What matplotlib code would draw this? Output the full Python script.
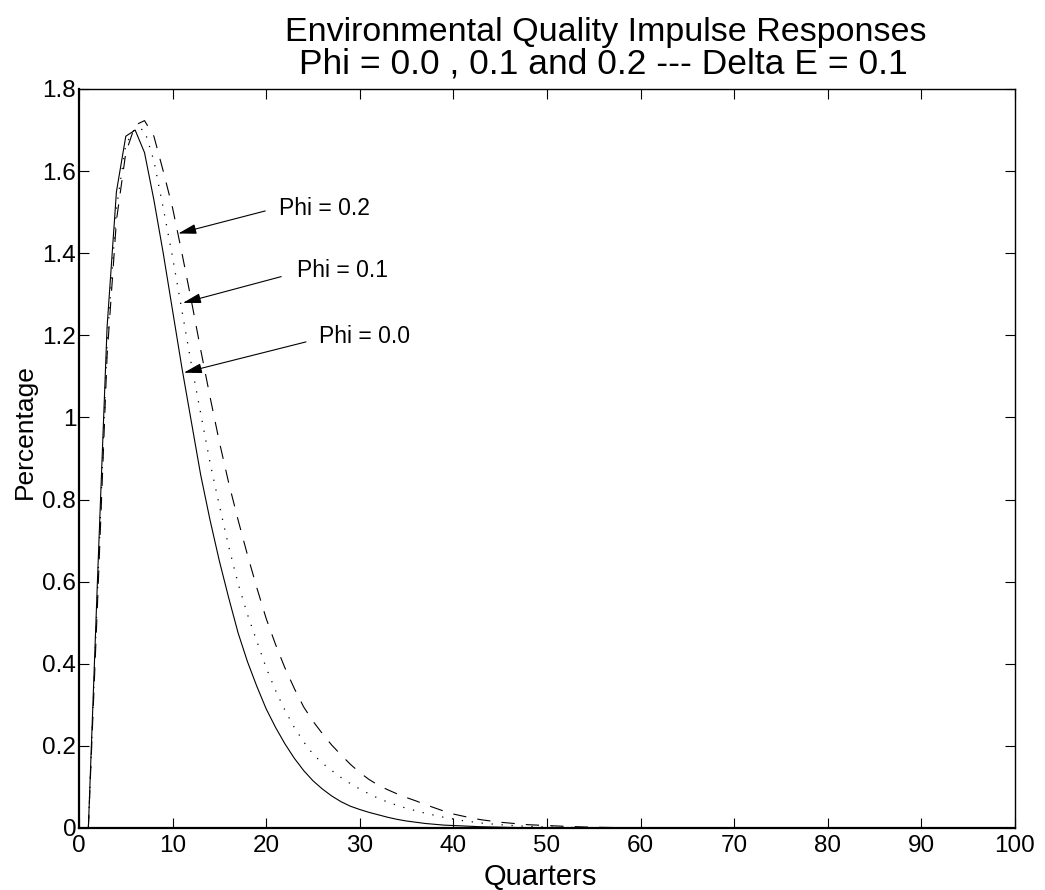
import numpy as np
import matplotlib
matplotlib.use("Agg")
import matplotlib.pyplot as plt

plt.rcParams['font.family'] = ['Liberation Sans', 'DejaVu Sans']

# quarters 1..100
quarters = np.arange(1, 101)

# Phi = 0.0 (solid)
phi00 = [0, 0.62, 1.22, 1.55, 1.685, 1.70, 1.645, 1.53, 1.40, 1.26,
         1.12, 0.99, 0.86, 0.75, 0.65, 0.56, 0.475, 0.405, 0.345, 0.29,
         0.245, 0.205, 0.17, 0.14, 0.115, 0.095, 0.078, 0.064, 0.053, 0.045,
         0.038, 0.032, 0.026, 0.021, 0.017, 0.014, 0.011, 0.009, 0.007, 0.006,
         0.005, 0.004, 0.003, 0.0025, 0.002, 0.0015, 0.001, 0.001, 0.0008, 0.0006,
         0.0005, 0.0004, 0.0003, 0.0002, 0.0002, 0.0001, 0.0001, 0.0001, 0, 0,
         0, 0, 0, 0, 0, 0, 0, 0, 0, 0,
         0, 0, 0, 0, 0, 0, 0, 0, 0, 0,
         0, 0, 0, 0, 0, 0, 0, 0, 0, 0,
         0, 0, 0, 0, 0, 0, 0, 0, 0, 0]

# Phi = 0.1 (dotted)
phi01 = [0, 0.59, 1.18, 1.51, 1.665, 1.705, 1.70, 1.625, 1.51, 1.39,
         1.26, 1.13, 1.01, 0.89, 0.785, 0.685, 0.595, 0.52, 0.455, 0.39,
         0.335, 0.287, 0.245, 0.21, 0.18, 0.158, 0.14, 0.123, 0.108, 0.095,
         0.083, 0.072, 0.063, 0.055, 0.048, 0.042, 0.036, 0.031, 0.026, 0.022,
         0.018, 0.015, 0.012, 0.01, 0.008, 0.0065, 0.005, 0.004, 0.0032, 0.0025,
         0.002, 0.0015, 0.0012, 0.001, 0.0008, 0.0006, 0.0005, 0.0004, 0.0003, 0.0002,
         0.0002, 0.0001, 0.0001, 0, 0, 0, 0, 0, 0, 0,
         0, 0, 0, 0, 0, 0, 0, 0, 0, 0,
         0, 0, 0, 0, 0, 0, 0, 0, 0, 0,
         0, 0, 0, 0, 0, 0, 0, 0, 0, 0]

# Phi = 0.2 (dashed)
phi02 = [0, 0.56, 1.15, 1.48, 1.645, 1.712, 1.723, 1.685, 1.60, 1.51,
         1.40, 1.285, 1.165, 1.05, 0.94, 0.84, 0.75, 0.665, 0.585, 0.51,
         0.447, 0.39, 0.34, 0.295, 0.26, 0.23, 0.202, 0.178, 0.155, 0.135,
         0.118, 0.104, 0.093, 0.083, 0.074, 0.066, 0.057, 0.049, 0.041, 0.034,
         0.029, 0.024, 0.02, 0.017, 0.014, 0.012, 0.01, 0.008, 0.007, 0.006,
         0.005, 0.004, 0.0032, 0.0025, 0.002, 0.0015, 0.0012, 0.001, 0.0008, 0.0006,
         0.0005, 0.0004, 0.0003, 0.0002, 0.0002, 0.0001, 0.0001, 0, 0, 0,
         0, 0, 0, 0, 0, 0, 0, 0, 0, 0,
         0, 0, 0, 0, 0, 0, 0, 0, 0, 0,
         0, 0, 0, 0, 0, 0, 0, 0, 0, 0]

yticks = [0, 0.2, 0.4, 0.6, 0.8, 1.0, 1.2, 1.4, 1.6, 1.8]
ytick_labels = ['0', '0.2', '0.4', '0.6', '0.8', '1', '1.2', '1.4', '1.6', '1.8']
xticks = [0, 10, 20, 30, 40, 50, 60, 70, 80, 90, 100]

# annotations: label, arrow tip, arrow tail, text position
ann_labels = ['Phi = 0.2', 'Phi = 0.1', 'Phi = 0.0']
ann_tips = [(10.6, 1.448), (11.1, 1.279), (11.2, 1.109)]
ann_tails = [(19.9, 1.503), (21.6, 1.343), (24.25, 1.184)]
ann_text = [(21.4, 1.51), (23.3, 1.357), (25.6, 1.197)]

fig = plt.figure(figsize=(10.45, 8.9), dpi=100)
ax = fig.add_axes([79/1045, 62/890, 936/1045, 739/890])

ax.plot(quarters, phi00, color='black', lw=0.8, ls='-')
ax.plot(quarters, phi01, color='black', lw=0.9, ls=(0, (1, 7)))
ax.plot(quarters, phi02, color='black', lw=0.8, ls=(0, (12, 10)))

for lab, tip, tail, tp in zip(ann_labels, ann_tips, ann_tails, ann_text):
    ax.annotate('', xy=tip, xytext=tail,
                arrowprops=dict(arrowstyle='-|>,head_length=11,head_width=3',
                                mutation_scale=1, color='black', lw=0.8,
                                shrinkA=0, shrinkB=0))
    ax.text(tp[0], tp[1], lab, fontsize=16.5, ha='left', va='center')

ax.set_xlim(0, 100)
ax.set_ylim(0, 1.8)
ax.set_xticks(xticks)
ax.set_yticks(yticks)
ax.set_yticklabels(ytick_labels)
ax.tick_params(direction='in', length=7, width=0.8, top=True, right=True,
               labelsize=17.5)
ax.tick_params(axis='x', pad=5)
ax.tick_params(axis='y', pad=2)
for s in ['left', 'bottom']:
    ax.spines[s].set_linewidth(1.6)
for s in ['top', 'right']:
    ax.spines[s].set_linewidth(1.0)

ax.set_xlabel('Quarters', fontsize=21)
ax.set_ylabel('Percentage', fontsize=19)
ax.xaxis.set_label_coords(0.4925, -0.066)
ax.xaxis.label.set_va('center')
ax.yaxis.set_label_coords(-0.058, 0.536)
ax.yaxis.label.set_va('center')

fig.text(606/1045, 1 - 41/890, 'Environmental Quality Impulse Responses',
         fontsize=24.5, ha='center', va='baseline')
fig.text(603/1045, 1 - 73/890, 'Phi = 0.0 , 0.1 and 0.2 --- Delta E = 0.1',
         fontsize=25.5, ha='center', va='baseline')

fig.savefig('out.png', dpi=100)
